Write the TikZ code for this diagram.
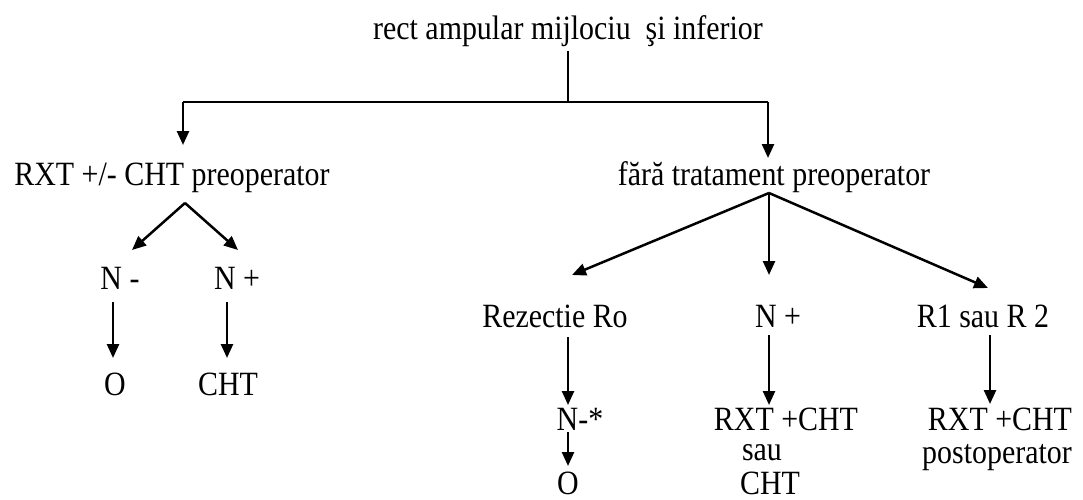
\documentclass[tikz,border=0pt]{standalone}
\usepackage{fontspec}
\setmainfont{Liberation Serif}[FakeStretch=0.88]
\usetikzlibrary{arrows.meta}
\begin{document}
\begin{tikzpicture}[x=1pt,y=-1pt,
  lbl/.style={inner sep=0pt, anchor=base, font=\fontsize{34}{40}\selectfont},
  ln/.style={line width=2.5pt},
  arr/.style={ln, -{Triangle[length=14pt,width=12pt]}}]
\useasboundingbox[fill=white] (0,0) rectangle (1083,500);
% texts
\node[lbl] (title) at (568,40) {rect ampular mijlociu\ \ şi inferior};
\node[lbl] (rxt) at (172,185) {RXT +/- CHT preoperator};
\node[lbl] (fara) at (774,185) {fără tratament preoperator};
\node[lbl] (nm) at (120,289) {N -};
\node[lbl] (np1) at (237,289) {N +};
\node[lbl] (o1) at (115,395) {O};
\node[lbl] (cht1) at (228,395) {CHT};
\node[lbl] (rez) at (555,327) {Rezectie Ro};
\node[lbl] (np2) at (778,327) {N +};
\node[lbl] (r12) at (983,327) {R1 sau R 2};
\node[lbl] (nstar) at (580,430) {N-*};
\node[lbl] (rxtc2) at (786,430) {RXT +CHT};
\node[lbl] (sau) at (762,460) {sau};
\node[lbl] (cht2) at (770,494) {CHT};
\node[lbl] (o2) at (568,494) {O};
\node[lbl] (rxtc3) at (1000,430) {RXT +CHT};
\node[lbl] (postop) at (997,463) {postoperator};
% junction and end coordinates
\coordinate (tTop) at (568,51);
\coordinate (hM) at (568,102);
\coordinate (hL) at (183,102);
\coordinate (hR) at (768,102);
\coordinate (aL) at (183,145);
\coordinate (aR) at (768,158);
\coordinate (lApex) at (185,203);
\coordinate (lt1) at (132,250);
\coordinate (lt2) at (238,250);
\coordinate (nmB) at (113,302);
\coordinate (o1T) at (113,358);
\coordinate (npB) at (227,302);
\coordinate (cht1T) at (227,358);
\coordinate (rApex) at (769,193);
\coordinate (rt1) at (572,275);
\coordinate (rt2) at (769,275);
\coordinate (rt3) at (988,288);
\coordinate (rezB) at (568,337);
\coordinate (nstarT) at (568,405);
\coordinate (np2B) at (769,335);
\coordinate (rxtc2T) at (769,405);
\coordinate (r12B) at (990,335);
\coordinate (rxtc3T) at (990,404);
\coordinate (nstarB) at (568,432);
\coordinate (o2T) at (568,466);
% connectors
\draw[ln] (tTop) -- (hM);
\draw[ln] (hL) -- (hR);
\draw[arr] (hL) -- (aL);
\draw[arr] (hR) -- (aR);
\draw[arr] (lApex) -- (lt1);
\draw[arr] (lApex) -- (lt2);
\draw[arr] (nmB) -- (o1T);
\draw[arr] (npB) -- (cht1T);
\draw[arr] (rApex) -- (rt1);
\draw[arr] (rApex) -- (rt2);
\draw[arr] (rApex) -- (rt3);
\draw[arr] (rezB) -- (nstarT);
\draw[arr] (np2B) -- (rxtc2T);
\draw[arr] (r12B) -- (rxtc3T);
\draw[arr] (nstarB) -- (o2T);
\end{tikzpicture}
\end{document}
